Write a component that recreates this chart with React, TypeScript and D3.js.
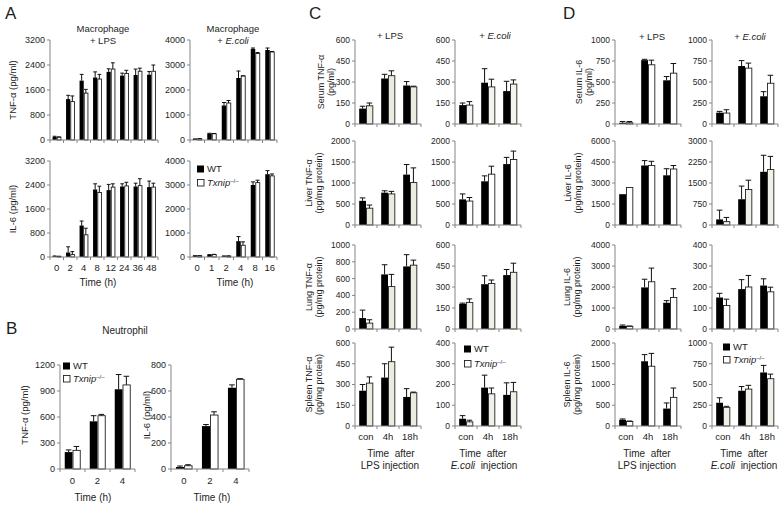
import React from "react";
import * as d3 from "d3";

const FONT = "'Liberation Sans', Arial, Helvetica, sans-serif";
const AXIS = "#858585";
const INK = "#1e1e1e";
const BEIGE = "#ecebe0";

// ---- categories ----
const macLpsTimes = ["0", "2", "4", "8", "12", "24", "36", "48"];
const macEcoliTimes = ["0", "1", "2", "4", "8", "16"];
const neuTimes = ["0", "2", "4"];
const injTimes = ["con", "4h", "18h"];

// ---- A: macrophages ----
const aTnfLpsWT = [100, 1310, 1900, 2000, 2180, 2060, 2080, 2090];
const aTnfLpsWTsd = [20, 120, 200, 180, 100, 80, 190, 100];
const aTnfLpsKO = [90, 1230, 1500, 1950, 2270, 2130, 2200, 2200];
const aTnfLpsKOsd = [10, 180, 120, 150, 200, 100, 100, 200];

const aTnfEcoliWT = [40, 260, 1380, 2480, 3640, 3600];
const aTnfEcoliWTsd = [5, 10, 120, 280, 40, 80];
const aTnfEcoliKO = [50, 250, 1480, 2560, 3460, 3520];
const aTnfEcoliKOsd = [5, 10, 100, 10, 40, 20];

const aIl6LpsWT = [30, 150, 1050, 2250, 2230, 2350, 2350, 2330];
const aIl6LpsWTsd = [5, 190, 150, 190, 190, 90, 110, 200];
const aIl6LpsKO = [20, 80, 740, 2150, 2330, 2370, 2380, 2330];
const aIl6LpsKOsd = [5, 100, 220, 210, 110, 120, 230, 130];

const aIl6EcoliWT = [50, 90, 40, 660, 3000, 3450];
const aIl6EcoliWTsd = [5, 10, 5, 190, 130, 150];
const aIl6EcoliKO = [50, 100, 40, 490, 3100, 3380];
const aIl6EcoliKOsd = [5, 10, 5, 140, 100, 80];

// ---- B: neutrophils ----
const bTnfWT = [195, 550, 920];
const bTnfWTsd = [25, 65, 170];
const bTnfKO = [215, 615, 970];
const bTnfKOsd = [45, 15, 100];

const bIl6WT = [15, 330, 625];
const bIl6WTsd = [8, 12, 22];
const bIl6KO = [25, 415, 690];
const bIl6KOsd = [8, 25, 5];

// ---- C: TNF-a in vivo ----
const cSerumLpsWT = [110, 325, 275];
const cSerumLpsWTsd = [17, 30, 28];
const cSerumLpsKO = [130, 345, 265];
const cSerumLpsKOsd = [20, 35, 5];
const cSerumEcoliWT = [135, 295, 235];
const cSerumEcoliWTsd = [15, 100, 70];
const cSerumEcoliKO = [135, 265, 285];
const cSerumEcoliKOsd = [25, 55, 30];

const cLiverLpsWT = [575, 770, 1200];
const cLiverLpsWTsd = [70, 45, 240];
const cLiverLpsKO = [400, 740, 1010];
const cLiverLpsKOsd = [75, 60, 350];
const cLiverEcoliWT = [610, 1040, 1450];
const cLiverEcoliWTsd = [130, 130, 160];
const cLiverEcoliKO = [570, 1210, 1560];
const cLiverEcoliKOsd = [85, 190, 200];

const cLungLpsWT = [130, 650, 745];
const cLungLpsWTsd = [95, 115, 140];
const cLungLpsKO = [70, 505, 760];
const cLungLpsKOsd = [40, 145, 60];
const cLungEcoliWT = [180, 320, 385];
const cLungEcoliWTsd = [5, 60, 40];
const cLungEcoliKO = [190, 325, 405];
const cLungEcoliKOsd = [25, 25, 65];

const cSpleenLpsWT = [255, 350, 210];
const cSpleenLpsWTsd = [45, 100, 60];
const cSpleenLpsKO = [310, 465, 240];
const cSpleenLpsKOsd = [45, 105, 5];
const cSpleenEcoliWT = [35, 185, 150];
const cSpleenEcoliWTsd = [15, 60, 58];
const cSpleenEcoliKO = [20, 155, 165];
const cSpleenEcoliKOsd = [8, 28, 45];

// ---- D: IL-6 in vivo ----
const dSerumLpsWT = [15, 760, 520];
const dSerumLpsWTsd = [15, 10, 45];
const dSerumLpsKO = [15, 705, 605];
const dSerumLpsKOsd = [15, 55, 115];
const dSerumEcoliWT = [135, 690, 330];
const dSerumEcoliWTsd = [15, 65, 55];
const dSerumEcoliKO = [130, 665, 485];
const dSerumEcoliKOsd = [40, 60, 95];

const dLiverLpsWT = [2200, 4250, 3550];
const dLiverLpsWTsd = [0, 350, 470];
const dLiverLpsKO = [2680, 4250, 4000];
const dLiverLpsKOsd = [0, 300, 250];
const dLiverEcoliWT = [200, 920, 1900];
const dLiverEcoliWTsd = [330, 470, 590];
const dLiverEcoliKO = [120, 1270, 1980];
const dLiverEcoliKOsd = [150, 330, 470];

const dLungLpsWT = [150, 1980, 1250];
const dLungLpsWTsd = [40, 390, 100];
const dLungLpsKO = [130, 2250, 1500];
const dLungLpsKOsd = [10, 650, 420];
const dLungEcoliWT = [150, 190, 207];
const dLungEcoliWTsd = [20, 45, 32];
const dLungEcoliKO = [112, 200, 177];
const dLungEcoliKOsd = [30, 55, 22];

const dSpleenLpsWT = [150, 1560, 420];
const dSpleenLpsWTsd = [20, 160, 135];
const dSpleenLpsKO = [110, 1440, 690];
const dSpleenLpsKOsd = [10, 310, 225];
const dSpleenEcoliWT = [280, 425, 645];
const dSpleenEcoliWTsd = [60, 50, 85];
const dSpleenEcoliKO = [225, 445, 570];
const dSpleenEcoliKOsd = [12, 45, 55];

type ChartDef = {
  x0: number; x1: number; yTop: number; yBot: number;
  max: number; step: number; cats: string[];
  wt: number[]; wtSd: number[]; ko: number[]; koSd: number[];
  koFill?: string; catY?: number; fs?: number;
};

function BarChart({ c }: { c: ChartDef }) {
  const x = d3.scaleBand<string>().domain(c.cats).range([c.x0, c.x1]);
  const y = d3.scaleLinear().domain([0, c.max]).range([c.yBot, c.yTop]);
  const ticks = d3.range(0, c.max + c.step / 2, c.step);
  const bw = x.bandwidth() * 0.31;
  const cap = Math.min(2.8, bw * 0.45);
  const fs = c.fs || 8.5;

  const errBar = (cx: number, v: number, sd: number, key: string) =>
    sd > 0 ? (
      <g key={key} stroke="#111" strokeWidth={1}>
        <line x1={cx} x2={cx} y1={y(v)} y2={y(v + sd)} />
        <line x1={cx - cap} x2={cx + cap} y1={y(v + sd)} y2={y(v + sd)} />
      </g>
    ) : null;

  return (
    <g>
      {c.cats.map((k, i) => {
        const mid = (x(k) as number) + x.bandwidth() / 2;
        return (
          <g key={k}>
            <rect x={mid - bw} y={y(c.wt[i])} width={bw} height={c.yBot - y(c.wt[i])} fill="#000" />
            <rect x={mid + 0.5} y={y(c.ko[i])} width={bw - 0.5} height={c.yBot - y(c.ko[i])}
              fill={c.koFill || "#fff"} stroke="#222" strokeWidth={0.9} />
            {errBar(mid - bw / 2, c.wt[i], c.wtSd[i], "w")}
            {errBar(mid + bw / 2, c.ko[i], c.koSd[i], "k")}
          </g>
        );
      })}
      {/* y axis */}
      <line x1={c.x0} x2={c.x0} y1={c.yTop} y2={c.yBot} stroke={AXIS} />
      {ticks.map(t => (
        <g key={t}>
          <line x1={c.x0 - 3} x2={c.x0} y1={y(t)} y2={y(t)} stroke={AXIS} />
          <text x={c.x0 - 5} y={y(t)} dy="0.35em" textAnchor="end" fontSize={fs} fill={INK}>{t}</text>
        </g>
      ))}
      {/* x axis */}
      <line x1={c.x0} x2={c.x1} y1={c.yBot} y2={c.yBot} stroke={AXIS} />
      {d3.range(c.cats.length + 1).map(i => (
        <line key={i} x1={c.x0 + i * x.step()} x2={c.x0 + i * x.step()} y1={c.yBot} y2={c.yBot + 3} stroke={AXIS} />
      ))}
      {c.catY !== undefined && c.cats.map(k => (
        <text key={k} x={(x(k) as number) + x.bandwidth() / 2} y={c.catY} dy="0.35em" textAnchor="middle"
          fontSize={9.5} fill={INK}>{k}</text>
      ))}
    </g>
  );
}

const YLabel = ({ x, y, text, fs = 9.5 }: { x: number; y: number; text: string; fs?: number }) => (
  <text transform={`translate(${x},${y}) rotate(-90)`} dy="0.35em" textAnchor="middle" fontSize={fs} fill={INK}>{text}</text>
);

const Txt = ({ x, y, children, fs = 9.5, anchor = "middle" }: any) => (
  <text x={x} y={y} dy="0.35em" textAnchor={anchor} fontSize={fs} fill={INK}>{children}</text>
);

const Legend = ({ x, y, gap }: { x: number; y: number; gap: number }) => (
  <g>
    <rect x={x} y={y - 3.5} width={7} height={7} fill="#000" />
    <Txt x={x + 10} y={y} anchor="start" fs={9.5}>WT</Txt>
    <rect x={x + 0.5} y={y + gap - 3.5} width={6.5} height={6.5} fill="#fff" stroke="#222" strokeWidth={0.9} />
    <text x={x + 10} y={y + gap} dy="0.35em" fontSize={9.5} fill={INK}>
      <tspan fontStyle="italic">Txnip</tspan>
      <tspan fontSize={6} dy="-3.5">–/–</tspan>
    </text>
  </g>
);

const Ecoli = ({ x, y, pre = "+ ", post = "", fs = 9.5 }: any) => (
  <text x={x} y={y} dy="0.35em" textAnchor="middle" fontSize={fs} fill={INK}>
    {pre}<tspan fontStyle="italic">E.coli</tspan>{post}
  </text>
);

export default function App() {
  const rowsCD = [[40, 124], [141, 225], [245, 329], [343, 426]];
  const cLps = [355, 421];
  const cEco = [455, 521];
  const dLps = [615, 681];
  const dEco = [712, 778];
  const catY = 437;
  const timeAfter = "Time\u00a0 after";

  const charts: ChartDef[] = [
    // A
    { x0: 50, x1: 158, yTop: 40, yBot: 140, max: 3200, step: 800, cats: macLpsTimes,
      wt: aTnfLpsWT, wtSd: aTnfLpsWTsd, ko: aTnfLpsKO, koSd: aTnfLpsKOsd, fs: 9 },
    { x0: 190, x1: 277, yTop: 40, yBot: 140, max: 4000, step: 1000, cats: macEcoliTimes,
      wt: aTnfEcoliWT, wtSd: aTnfEcoliWTsd, ko: aTnfEcoliKO, koSd: aTnfEcoliKOsd, fs: 9 },
    { x0: 50, x1: 158, yTop: 161, yBot: 257, max: 3200, step: 800, cats: macLpsTimes,
      wt: aIl6LpsWT, wtSd: aIl6LpsWTsd, ko: aIl6LpsKO, koSd: aIl6LpsKOsd, fs: 9, catY: 268 },
    { x0: 190, x1: 277, yTop: 161, yBot: 257, max: 4000, step: 1000, cats: macEcoliTimes,
      wt: aIl6EcoliWT, wtSd: aIl6EcoliWTsd, ko: aIl6EcoliKO, koSd: aIl6EcoliKOsd, fs: 9, catY: 268 },
    // B
    { x0: 60, x1: 135, yTop: 365, yBot: 469, max: 1200, step: 300, cats: neuTimes,
      wt: bTnfWT, wtSd: bTnfWTsd, ko: bTnfKO, koSd: bTnfKOsd, fs: 9, catY: 481 },
    { x0: 171, x1: 249, yTop: 365, yBot: 469, max: 800, step: 200, cats: neuTimes,
      wt: bIl6WT, wtSd: bIl6WTsd, ko: bIl6KO, koSd: bIl6KOsd, fs: 9, catY: 481 },
    // C
    { x0: cLps[0], x1: cLps[1], yTop: rowsCD[0][0], yBot: rowsCD[0][1], max: 600, step: 150, cats: injTimes,
      wt: cSerumLpsWT, wtSd: cSerumLpsWTsd, ko: cSerumLpsKO, koSd: cSerumLpsKOsd, koFill: BEIGE },
    { x0: cEco[0], x1: cEco[1], yTop: rowsCD[0][0], yBot: rowsCD[0][1], max: 600, step: 150, cats: injTimes,
      wt: cSerumEcoliWT, wtSd: cSerumEcoliWTsd, ko: cSerumEcoliKO, koSd: cSerumEcoliKOsd, koFill: "#f4f4ee" },
    { x0: cLps[0], x1: cLps[1], yTop: rowsCD[1][0], yBot: rowsCD[1][1], max: 2000, step: 500, cats: injTimes,
      wt: cLiverLpsWT, wtSd: cLiverLpsWTsd, ko: cLiverLpsKO, koSd: cLiverLpsKOsd, koFill: BEIGE },
    { x0: cEco[0], x1: cEco[1], yTop: rowsCD[1][0], yBot: rowsCD[1][1], max: 2000, step: 500, cats: injTimes,
      wt: cLiverEcoliWT, wtSd: cLiverEcoliWTsd, ko: cLiverEcoliKO, koSd: cLiverEcoliKOsd },
    { x0: cLps[0], x1: cLps[1], yTop: rowsCD[2][0], yBot: rowsCD[2][1], max: 1000, step: 200, cats: injTimes,
      wt: cLungLpsWT, wtSd: cLungLpsWTsd, ko: cLungLpsKO, koSd: cLungLpsKOsd, koFill: BEIGE },
    { x0: cEco[0], x1: cEco[1], yTop: rowsCD[2][0], yBot: rowsCD[2][1], max: 600, step: 150, cats: injTimes,
      wt: cLungEcoliWT, wtSd: cLungEcoliWTsd, ko: cLungEcoliKO, koSd: cLungEcoliKOsd, koFill: "#f1f0e8" },
    { x0: cLps[0], x1: cLps[1], yTop: rowsCD[3][0], yBot: rowsCD[3][1], max: 600, step: 150, cats: injTimes,
      wt: cSpleenLpsWT, wtSd: cSpleenLpsWTsd, ko: cSpleenLpsKO, koSd: cSpleenLpsKOsd, koFill: BEIGE, catY },
    { x0: cEco[0], x1: cEco[1], yTop: rowsCD[3][0], yBot: rowsCD[3][1], max: 400, step: 100, cats: injTimes,
      wt: cSpleenEcoliWT, wtSd: cSpleenEcoliWTsd, ko: cSpleenEcoliKO, koSd: cSpleenEcoliKOsd, koFill: "#f1f0e8", catY },
    // D
    { x0: dLps[0], x1: dLps[1], yTop: rowsCD[0][0], yBot: rowsCD[0][1], max: 1000, step: 250, cats: injTimes,
      wt: dSerumLpsWT, wtSd: dSerumLpsWTsd, ko: dSerumLpsKO, koSd: dSerumLpsKOsd },
    { x0: dEco[0], x1: dEco[1], yTop: rowsCD[0][0], yBot: rowsCD[0][1], max: 1000, step: 250, cats: injTimes,
      wt: dSerumEcoliWT, wtSd: dSerumEcoliWTsd, ko: dSerumEcoliKO, koSd: dSerumEcoliKOsd },
    { x0: dLps[0], x1: dLps[1], yTop: rowsCD[1][0], yBot: rowsCD[1][1], max: 6000, step: 1500, cats: injTimes,
      wt: dLiverLpsWT, wtSd: dLiverLpsWTsd, ko: dLiverLpsKO, koSd: dLiverLpsKOsd },
    { x0: dEco[0], x1: dEco[1], yTop: rowsCD[1][0], yBot: rowsCD[1][1], max: 3000, step: 750, cats: injTimes,
      wt: dLiverEcoliWT, wtSd: dLiverEcoliWTsd, ko: dLiverEcoliKO, koSd: dLiverEcoliKOsd, koFill: "#f1f0e8" },
    { x0: dLps[0], x1: dLps[1], yTop: rowsCD[2][0], yBot: rowsCD[2][1], max: 4000, step: 1000, cats: injTimes,
      wt: dLungLpsWT, wtSd: dLungLpsWTsd, ko: dLungLpsKO, koSd: dLungLpsKOsd },
    { x0: dEco[0], x1: dEco[1], yTop: rowsCD[2][0], yBot: rowsCD[2][1], max: 400, step: 100, cats: injTimes,
      wt: dLungEcoliWT, wtSd: dLungEcoliWTsd, ko: dLungEcoliKO, koSd: dLungEcoliKOsd },
    { x0: dLps[0], x1: dLps[1], yTop: rowsCD[3][0], yBot: rowsCD[3][1], max: 2000, step: 500, cats: injTimes,
      wt: dSpleenLpsWT, wtSd: dSpleenLpsWTsd, ko: dSpleenLpsKO, koSd: dSpleenLpsKOsd, catY },
    { x0: dEco[0], x1: dEco[1], yTop: rowsCD[3][0], yBot: rowsCD[3][1], max: 1000, step: 250, cats: injTimes,
      wt: dSpleenEcoliWT, wtSd: dSpleenEcoliWTsd, ko: dSpleenEcoliKO, koSd: dSpleenEcoliKOsd, koFill: "#f1f0e8", catY },
  ];

  const mid = (r: number[]) => (r[0] + r[1]) / 2;

  return (
    <svg width={782} height={507} style={{ position: "absolute", left: 0, top: 0, background: "#fff" }}
      fontFamily={FONT}>
      <rect width={782} height={507} fill="#fff" />
      {charts.map((c, i) => <BarChart key={i} c={c} />)}

      {/* panel letters */}
      <Txt x={5} y={13} anchor="start" fs={17}>A</Txt>
      <Txt x={6} y={328} anchor="start" fs={17}>B</Txt>
      <Txt x={309} y={13} anchor="start" fs={17}>C</Txt>
      <Txt x={563} y={13} anchor="start" fs={17}>D</Txt>

      {/* A */}
      <Txt x={103} y={29}>Macrophage</Txt>
      <Txt x={103} y={41}>+ LPS</Txt>
      <Txt x={233} y={29}>Macrophage</Txt>
      <Ecoli x={233} y={41} />
      <YLabel x={13} y={90} text="TNF-α (pg/ml)" />
      <YLabel x={13} y={209} text="IL-6 (pg/ml)" />
      <Txt x={98} y={282} fs={10}>Time (h)</Txt>
      <Txt x={235} y={282} fs={10}>Time (h)</Txt>
      <Legend x={197} y={169} gap={14} />

      {/* B */}
      <Txt x={125} y={330} fs={10}>Neutrophil</Txt>
      <YLabel x={25} y={415} text="TNF-α (pg/ml)" />
      <YLabel x={147} y={415} text="IL-6 (pg/ml)" />
      <Txt x={93} y={497} fs={10}>Time (h)</Txt>
      <Txt x={212} y={497} fs={10}>Time (h)</Txt>
      <Legend x={63} y={366} gap={13} />

      {/* C */}
      <Txt x={390} y={36}>+ LPS</Txt>
      <Ecoli x={495} y={36} />
      <YLabel x={321} y={mid(rowsCD[0])} text="Serum TNF-α" fs={9} />
      <YLabel x={331} y={mid(rowsCD[0])} text="(pg/ml)" fs={9} />
      <YLabel x={309} y={mid(rowsCD[1])} text="Liver TNF-α" fs={9} />
      <YLabel x={319} y={mid(rowsCD[1])} text="(pg/mg protein)" fs={9} />
      <YLabel x={309} y={mid(rowsCD[2])} text="Lung TNF-α" fs={9} />
      <YLabel x={319} y={mid(rowsCD[2])} text="(pg/mg protein)" fs={9} />
      <YLabel x={309} y={mid(rowsCD[3])} text="Spleen TNF-α" fs={9} />
      <YLabel x={319} y={mid(rowsCD[3])} text="(pg/mg protein)" fs={9} />
      <Txt x={391} y={453} fs={10}>{timeAfter}</Txt>
      <Txt x={390} y={465} fs={10}>LPS injection</Txt>
      <Txt x={483} y={453} fs={10}>{timeAfter}</Txt>
      <Ecoli x={484} y={465} pre="" post={"\u00a0 injection"} fs={10} />
      <Legend x={464} y={349} gap={15} />

      {/* D */}
      <Txt x={652} y={37}>+ LPS</Txt>
      <Ecoli x={750} y={37} />
      <YLabel x={579} y={mid(rowsCD[0])} text="Serum IL-6" fs={9} />
      <YLabel x={589} y={mid(rowsCD[0])} text="(pg/ml)" fs={9} />
      <YLabel x={568} y={mid(rowsCD[1])} text="Liver IL-6" fs={9} />
      <YLabel x={578} y={mid(rowsCD[1])} text="(pg/mg protein)" fs={9} />
      <YLabel x={567} y={mid(rowsCD[2])} text="Lung IL-6" fs={9} />
      <YLabel x={577} y={mid(rowsCD[2])} text="(pg/mg protein)" fs={9} />
      <YLabel x={567} y={mid(rowsCD[3])} text="Spleen IL-6" fs={9} />
      <YLabel x={577} y={mid(rowsCD[3])} text="(pg/mg protein)" fs={9} />
      <Txt x={647} y={453} fs={10}>{timeAfter}</Txt>
      <Txt x={647} y={465} fs={10}>LPS injection</Txt>
      <Txt x={744} y={453} fs={10}>{timeAfter}</Txt>
      <Ecoli x={744} y={465} pre="" post={"\u00a0 injection"} fs={10} />
      <Legend x={723} y={347} gap={13} />
    </svg>
  );
}
